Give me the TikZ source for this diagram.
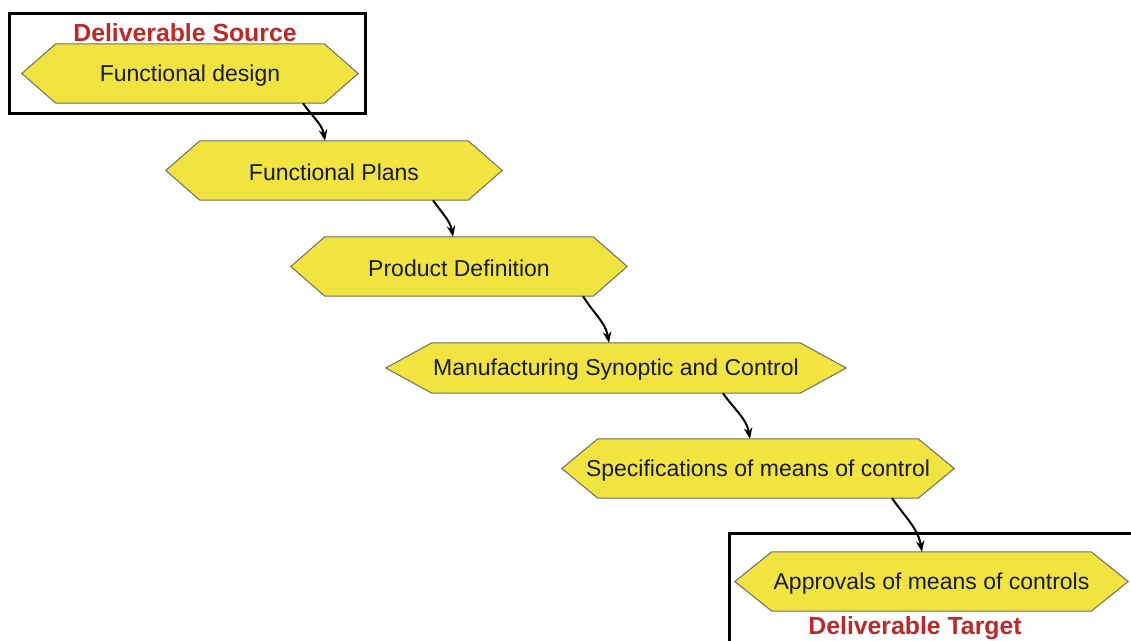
\documentclass[tikz,border=0pt]{standalone}
\usepackage{fontspec}
\setmainfont{Liberation Sans}
\usetikzlibrary{arrows.meta,calc}
\definecolor{hexyellow}{RGB}{242,228,64}
\definecolor{hexline}{RGB}{110,110,90}
\definecolor{lblred}{RGB}{192,40,40}
\definecolor{txtblack}{RGB}{25,25,25}
\newcommand{\hexfill}[2]{%
  \filldraw[hexshape] (#1.west) -- ([xshift=#2]#1.north west) -- ([xshift=-#2]#1.north east) -- (#1.east) -- ([xshift=-#2]#1.south east) -- ([xshift=#2]#1.south west) -- cycle;}
\tikzset{
  hextxt/.style={inner sep=0pt, text=txtblack, font=\fontsize{23}{27}\selectfont},
  hexlabel/.style={hextxt, yshift=-2pt},
  hexshape/.style={fill=hexyellow, draw=hexline, line width=1pt, line join=miter},
  framebox/.style={draw=black, line width=3pt},
  dlabel/.style={text=lblred, font=\fontsize{24.8}{28}\selectfont\bfseries, inner sep=0pt},
  flow/.style={draw=black, line width=2pt, -{Stealth[length=11pt,width=8.5pt]}}
}
\begin{document}
\begin{tikzpicture}[x=1pt,y=1pt]
\useasboundingbox (0,0) rectangle (1131,-640);
\clip (0,0) rectangle (1131,-640);
\fill[white] (0,0) rectangle (1131,-640);
% frames
\draw[framebox] (9,-13) rectangle (365,-113);
\draw[framebox] (729,-533) rectangle (1145,-660);
% geometry holders
\node[hextxt, minimum width=336pt, minimum height=59pt] (n1) at (190,-73.5) {};
\node[hextxt, minimum width=336pt, minimum height=59pt] (n2) at (334,-170.5) {};
\node[hextxt, minimum width=336pt, minimum height=59pt] (n3) at (459,-266.5) {};
\node[hextxt, minimum width=460pt, minimum height=50pt] (n4) at (616,-368) {};
\node[hextxt, minimum width=392pt, minimum height=59pt] (n5) at (758,-468.5) {};
\node[hextxt, minimum width=393pt, minimum height=59pt] (n6) at (931.5,-581.5) {};
\hexfill{n1}{34pt}
\hexfill{n2}{34pt}
\hexfill{n3}{34pt}
\hexfill{n4}{46pt}
\hexfill{n5}{36pt}
\hexfill{n6}{37pt}
\node[hexlabel] (t1) at (n1) {Functional design};
\node[hexlabel] (t2) at (n2) {Functional Plans};
\node[hexlabel] (t3) at (n3) {Product Definition};
\node[hexlabel] (t4) at (n4) {Manufacturing Synoptic and Control};
\node[hexlabel] (t5) at (n5) {Specifications of means of control};
\node[hexlabel] (t6) at (n6) {Approvals of means of controls};
% labels
\node[dlabel] (src) at (185,-33) {Deliverable Source};
\node[dlabel] (tgt) at (915,-628) {Deliverable Target};
% arrows
\draw[flow] ([xshift=113pt]n1.south) to[out=-55,in=100] ([xshift=-9pt]n2.north);
\draw[flow] ([xshift=99pt]n2.south) to[out=-55,in=100] ([xshift=-6pt]n3.north);
\draw[flow] ([xshift=124pt]n3.south) to[out=-58,in=100] ([xshift=-7pt]n4.north);
\draw[flow] ([xshift=107pt]n4.south) to[out=-55,in=100] ([xshift=-8pt]n5.north);
\draw[flow] ([xshift=134pt]n5.south) to[out=-55,in=100] ([xshift=-9.5pt]n6.north);
\end{tikzpicture}
\end{document}
